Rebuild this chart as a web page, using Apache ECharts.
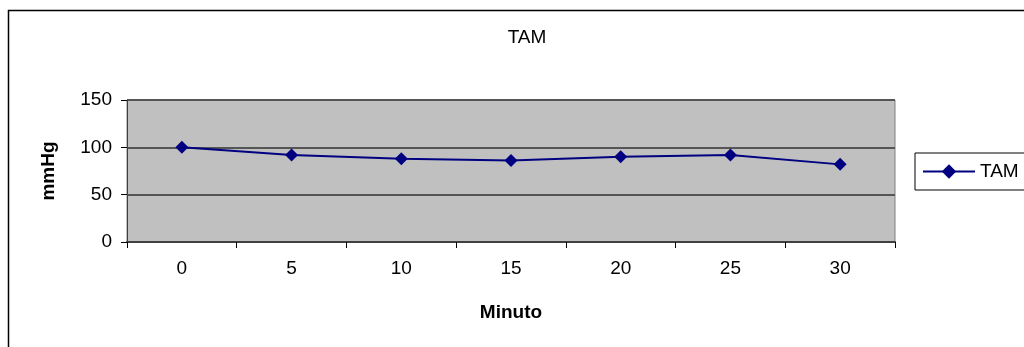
<!DOCTYPE html>
<html>
<head>
<meta charset="utf-8">
<script src="https://cdn.jsdelivr.net/npm/echarts@6/dist/echarts.min.js"></script>
<style>
  html, body { margin: 0; padding: 0; background: #fff; }
  #chart { width: 1024px; height: 347px; }
</style>
</head>
<body>
<div id="chart"></div>
<script>
// data
const minutos = ['0', '5', '10', '15', '20', '25', '30'];
const tam = [100, 92, 88, 86, 90, 92, 82];
const yTicks = [0, 50, 100, 150];

const font = '"Liberation Sans", Arial, sans-serif';
const chart = echarts.init(document.getElementById('chart'));

const option = {
  animation: false,
  textStyle: { fontFamily: font },
  title: {
    text: 'TAM',
    left: 522,
    textAlign: 'center',
    top: 23,
    textStyle: { fontSize: 19, fontWeight: 'normal', color: '#000', fontFamily: font }
  },
  legend: {
    left: 915,
    top: 153,
    orient: 'vertical',
    data: ['TAM'],
    itemWidth: 52,
    itemHeight: 18,
    itemGap: 5,
    padding: [9, 60, 9, 7],
    borderColor: '#000',
    borderWidth: 1,
    textStyle: { fontSize: 19, color: '#000', fontFamily: font }
  },
  grid: {
    left: 127,
    right: 129,
    top: 100,
    bottom: 105,
    show: true,
    backgroundColor: '#c0c0c0',
    borderColor: '#808080',
    borderWidth: 1
  },
  xAxis: {
    type: 'category',
    data: minutos,
    boundaryGap: true,
    name: 'Minuto',
    nameLocation: 'middle',
    nameGap: 61,
    nameTextStyle: { fontSize: 19, fontWeight: 'bold', color: '#000', fontFamily: font },
    axisLine: { lineStyle: { color: '#404040', width: 2 } },
    axisTick: { show: true, length: 6, lineStyle: { color: '#000' } },
    axisLabel: { fontSize: 19, color: '#000', margin: 17, fontFamily: font },
    splitLine: { show: false }
  },
  yAxis: {
    type: 'value',
    min: yTicks[0],
    max: yTicks[yTicks.length - 1],
    interval: 50,
    name: 'mmHg',
    nameLocation: 'middle',
    nameGap: 69,
    nameRotate: 90,
    nameTextStyle: { fontSize: 19, fontWeight: 'bold', color: '#000', fontFamily: font },
    axisLine: { show: true, lineStyle: { color: '#404040', width: 1 } },
    axisTick: { show: true, length: 6, lineStyle: { color: '#000' } },
    axisLabel: { fontSize: 19, color: '#000', margin: 15, fontFamily: font },
    splitLine: { show: true, lineStyle: { color: '#555', width: 2 } }
  },
  series: [{
    name: 'TAM',
    type: 'line',
    data: tam,
    symbol: 'diamond',
    symbolSize: 13,
    itemStyle: { color: '#000080' },
    lineStyle: { color: '#000080', width: 2 }
  }],
  graphic: [{
    type: 'rect',
    shape: { x: 8.5, y: 10.5, width: 1100, height: 400 },
    style: { fill: 'none', stroke: '#000', lineWidth: 1.5 },
    silent: true
  }]
};

chart.setOption(option);
</script>
</body>
</html>
